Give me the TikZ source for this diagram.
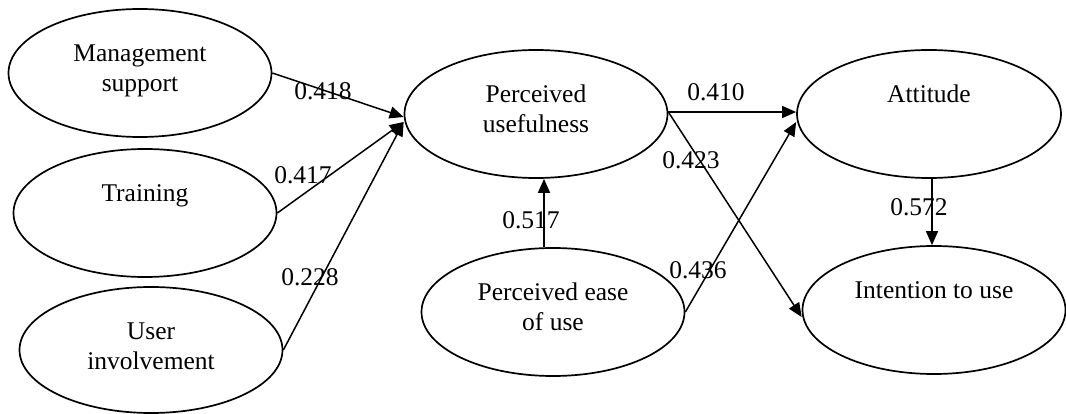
\documentclass[tikz,border=0pt]{standalone}
\usepackage{fontspec}
\setmainfont{Liberation Serif}
\usetikzlibrary{arrows.meta,shapes.geometric}
\newcommand\lstrut{\rule{0pt}{18pt}}
\begin{document}
\begin{tikzpicture}[x=1pt,y=-1pt,
  construct/.style={draw, ellipse, line width=1.7pt, inner sep=0pt,
    minimum width=263pt, minimum height=128pt},
  ctext/.style={anchor=north, inner sep=0pt, align=center,
    font=\fontsize{25.5}{30.5}\selectfont, yshift=-35pt},
  coef/.style={inner sep=0pt, font=\fontsize{25.5}{30.5}\selectfont},
  path/.style={line width=1.5pt, -{Triangle[length=14pt,width=12pt]}}]
\useasboundingbox (0,0) rectangle (1066,414);
% constructs
\node[construct] (ms) at (140,73) {};
\node[construct] (tr) at (145,213) {};
\node[construct, minimum height=126pt] (ui) at (151,350) {};
\node[construct] (pu) at (536,114) {};
\node[construct] (pe) at (553,312) {};
\node[construct, minimum width=264pt] (at) at (929,114) {};
\node[construct] (in) at (934,310) {};
% texts
\node[ctext] (mst) at (ms.north) {\lstrut Management\\support};
\node[ctext] (trt) at (tr.north) {\lstrut Training};
\node[ctext] (uit) at (ui.north) {\lstrut User\\involvement};
\node[ctext] (put) at (pu.north) {\lstrut Perceived\\usefulness};
\node[ctext] (pet) at (pe.north) {\lstrut Perceived ease\\of use};
\node[ctext] (att) at (at.north) {\lstrut Attitude};
\node[ctext] (int) at (in.north) {\lstrut Intention to use};
% paths
\draw[path] (ms.east) -- ([yshift=-3pt]pu.west);
\draw[path] (tr.east) -- ([yshift=-8pt]pu.west);
\draw[path] (ui.east) -- ([yshift=-8pt]pu.west);
\draw[path] ([xshift=-9pt]pe.north) -- ([xshift=8pt]pu.south);
\draw[path] ([yshift=2pt]pu.east) -- ([yshift=2pt]at.west);
\draw[path] ([yshift=2pt]pu.east) -- ([yshift=-7pt]in.west);
\draw[path] (pe.east) -- ([yshift=-8pt]at.west);
\draw[path] ([xshift=3pt]at.south) -- ([xshift=-2pt]in.north);
% coefficients
\node[coef] (c1) at (323,91.5) {0.418};
\node[coef] (c2) at (303,175) {0.417};
\node[coef] (c3) at (310,277) {0.228};
\node[coef] (c4) at (716,92) {0.410};
\node[coef] (c5) at (691,160) {0.423};
\node[coef] (c6) at (531,220) {0.517};
\node[coef] (c7) at (698,270) {0.436};
\node[coef] (c8) at (919,207) {0.572};
\end{tikzpicture}
\end{document}
